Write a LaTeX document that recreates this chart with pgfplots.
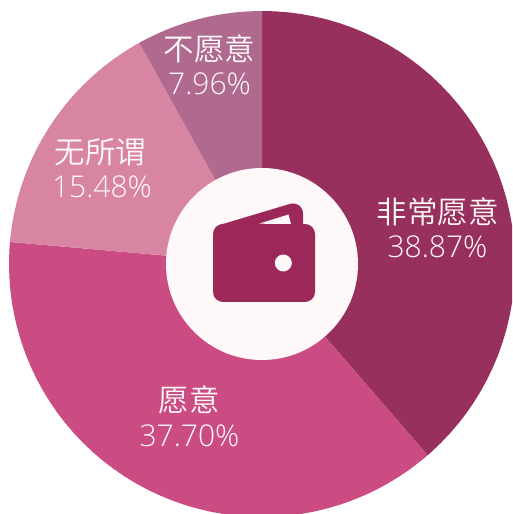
\documentclass[border=0pt]{standalone}
\usepackage{fontspec}
\usepackage{pgfplots}
\pgfplotsset{compat=1.18}
\newfontfamily\cjk{Noto Sans CJK SC DemiLight}
\newfontfamily\num{Open Sans Light}
\definecolor{sliceA}{HTML}{98305E}
\definecolor{sliceB}{HTML}{CB4C82}
\definecolor{sliceC}{HTML}{D885A3}
\definecolor{sliceD}{HTML}{B0698F}
\definecolor{wallet}{HTML}{9B2858}
\definecolor{paper}{HTML}{FEF8F8}
\tikzset{
  lab/.style={font=\cjk\fontsize{30.5}{30.5}\selectfont,text=paper,inner sep=0pt,anchor=center},
  pct/.style={font=\num\fontsize{30}{30}\selectfont,text=paper,inner sep=0pt,anchor=center}
}
\begin{document}
\begin{tikzpicture}
\path[use as bounding box] (0,0) rectangle (512pt,514pt);
\begin{axis}[
  anchor=south west,at={(0,0)},
  scale only axis,width=512pt,height=514pt,
  hide axis,
  xmin=-262,xmax=250,ymin=-250,ymax=264,
  every axis plot/.append style={data cs=polar,draw=none,mark=none}
]
% slices as (angle,radius), clockwise from the top
\addplot[fill=sliceA] coordinates {(0,0)(90,253)(87,253)(84,253)(81,253)(78,253)(75,253)(72,253)(69,253)(66,253)(63,253)(60,253)(57,253)(54,253)(51,253)(48,253)(45,253)(42,253)(39,253)(36,253)(33,253)(30,253)(27,253)(24,253)(21,253)(18,253)(15,253)(12,253)(9,253)(6,253)(3,253)(0,253)(-3,253)(-6,253)(-9,253)(-12,253)(-15,253)(-18,253)(-21,253)(-24,253)(-27,253)(-30,253)(-33,253)(-36,253)(-39,253)(-42,253)(-45,253)(-48,253)(-49.1,253)};
\addplot[fill=sliceB] coordinates {(0,0)(-49.1,253)(-51,253)(-54,253)(-57,253)(-60,253)(-63,253)(-66,253)(-69,253)(-72,253)(-75,253)(-78,253)(-81,253)(-84,253)(-87,253)(-90,253)(-93,253)(-96,253)(-99,253)(-102,253)(-105,253)(-108,253)(-111,253)(-114,253)(-117,253)(-120,253)(-123,253)(-126,253)(-129,253)(-132,253)(-135,253)(-138,253)(-141,253)(-144,253)(-147,253)(-150,253)(-153,253)(-156,253)(-159,253)(-162,253)(-165,253)(-168,253)(-171,253)(-174,253)(-177,253)(-180,253)(-183,253)(-185,253)};
\addplot[fill=sliceC] coordinates {(0,0)(-185,253)(-186,253)(-189,253)(-192,253)(-195,253)(-198,253)(-201,253)(-204,253)(-207,253)(-210,253)(-213,253)(-216,253)(-219,253)(-222,253)(-225,253)(-228,253)(-231,253)(-234,253)(-237,253)(-240,253)(-241,253)};
\addplot[fill=sliceD] coordinates {(0,0)(-241,253)(-243,253)(-246,253)(-249,253)(-252,253)(-255,253)(-258,253)(-261,253)(-264,253)(-267,253)(-270,253)};
% centre disc and wallet icon
\fill[paper] (axis cs:0,0) circle[radius=96];
\fill[wallet,rounded corners=10pt] (axis cs:-49,-38) rectangle (axis cs:53,40);
\fill[wallet] (axis cs:-42,39.1) [rounded corners=14pt] -- (axis cs:41,64) [sharp corners] -- (axis cs:41,31.5) -- cycle;
\fill[paper] (axis cs:-3,40.3) -- (axis cs:26.5,49.5) -- (axis cs:29,40) -- cycle;
\fill[paper] (axis cs:21.3,1) circle[radius=8.5];
% labels
\node[lab] at (axis cs:175.5,52) {非常愿意};
\node[pct] at (axis cs:175.5,17) {38.87\%};
\node[lab] at (axis cs:-73,-136) {愿意};
\node[pct] at (axis cs:-72.5,-172) {37.70\%};
\node[lab] at (axis cs:-161.5,112) {无所谓};
\node[pct] at (axis cs:-160,77) {15.48\%};
\node[lab] at (axis cs:-52.5,215) {不愿意};
\node[pct] at (axis cs:-52.5,180) {7.96\%};
\end{axis}
\end{tikzpicture}
\end{document}
